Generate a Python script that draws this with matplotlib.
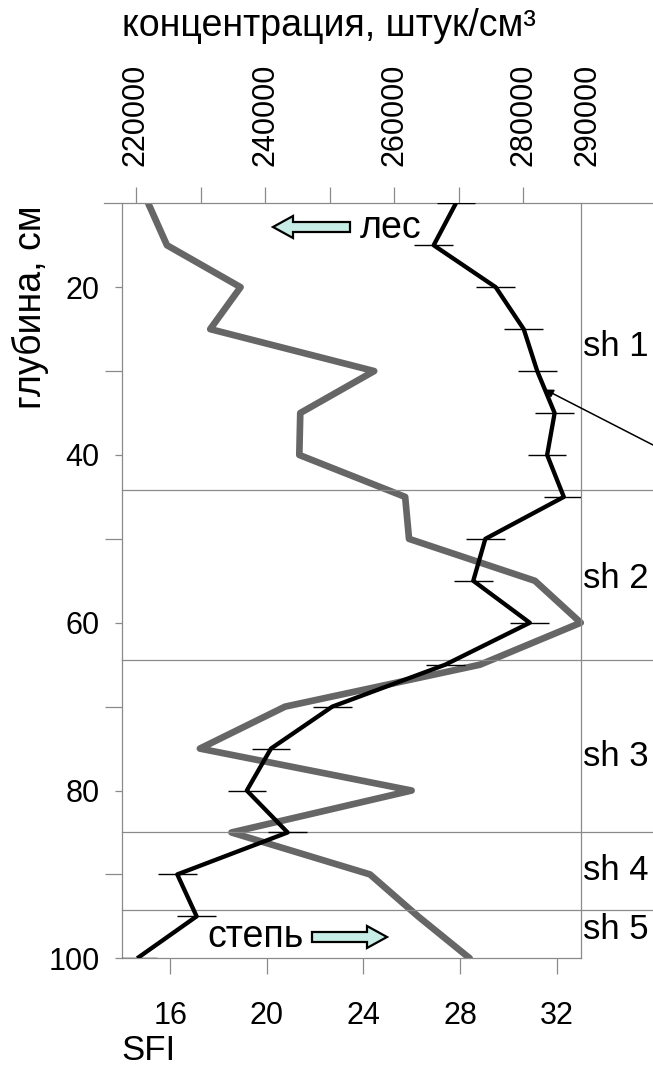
import matplotlib
matplotlib.use("Agg")
import matplotlib.pyplot as plt
import matplotlib.transforms as mtransforms
from matplotlib.patches import FancyArrow

plt.rcParams['font.family'] = ['Liberation Sans', 'DejaVu Sans']

# depth of samples, cm
depth = [10, 15, 20, 25, 30, 35, 40, 45, 50, 55, 60, 65, 70, 75, 80, 85, 90, 95, 100]
# SFI profile with its spread
sfi = [27.83, 26.91, 29.48, 30.64, 31.20, 31.92, 31.61, 32.30, 29.05, 28.55,
       30.89, 27.39, 22.71, 20.17, 19.17, 20.86, 16.29, 17.09, 14.63]
sfi_err = [0.8, 0.8, 0.8, 0.8, 0.8, 0.8, 0.8, 0.8, 0.8, 0.8,
           0.8, 0.8, 0.8, 0.8, 0.8, 0.8, 0.8, 0.8, 0.8]
# particle concentration, pcs/cm3
concentration = [221900, 224800, 236200, 231500, 256900, 245450, 245300, 261700,
                 262300, 281800, 288900, 273300, 243100, 229900, 262700, 234800,
                 256250, 263700, 271700]

# soil horizon boundaries (cm) and labels
horizon_bounds = [44.2, 64.5, 84.9, 94.2]
horizon_names = ['sh 1', 'sh 2', 'sh 3', 'sh 4', 'sh 5']
horizon_label_depth = [27.1, 54.7, 76.0, 89.5, 96.6]

sfi_ticks = [16, 20, 24, 28, 32]
depth_ticks = [20, 40, 60, 80, 100]
depth_minor = [30, 50, 70, 90]
conc_ticks = [220000, 240000, 260000, 280000, 290000]
conc_minor = [230000, 250000, 270000]

W, H = 653, 1072
fig = plt.figure(figsize=(W / 100, H / 100), dpi=100)
fig.patch.set_facecolor('white')

GRID = '#8a8a8a'
TICK_FS = 22
LABEL_FS = 25
TITLE_FS = 27

def px_rect(x0, x1, y0, y1):
    return [x0 / W, 1 - y1 / H, (x1 - x0) / W, (y1 - y0) / H]

# concentration axis (top), wider than the SFI frame
ax2 = fig.add_axes(px_rect(103.7, 652.4, 203.3, 958.3))
ax2.patch.set_visible(False)
ax2.set_xlim(215000, 300000)
ax2.set_ylim(100, 10)
for s in ['left', 'right', 'bottom']:
    ax2.spines[s].set_visible(False)
ax2.spines['top'].set_color(GRID)
ax2.spines['top'].set_linewidth(0.9)
ax2.xaxis.set_ticks_position('top')
ax2.xaxis.set_label_position('top')
ax2.set_xticks(conc_ticks)
ax2.set_xticklabels([str(v) for v in conc_ticks], rotation=90)
ax2.set_xticks(conc_minor, minor=True)
ax2.tick_params(axis='x', which='both', direction='out', length=11.5, width=0.9,
                color=GRID, labelsize=TICK_FS, pad=15)
ax2.xaxis.get_major_ticks()[-1].tick2line.set_visible(False)
ax2.set_yticks([])
ax2.plot(concentration, depth, color='#666666', lw=4.8,
         solid_joinstyle='round', solid_capstyle='round')

# SFI axis (bottom) with depth on the left
ax = fig.add_axes(px_rect(122.0, 580.7, 203.3, 958.3))
ax.set_zorder(ax2.get_zorder() + 1)
ax.patch.set_visible(False)
ax.set_xlim(14, 33)
ax.set_ylim(100, 10)
ax.spines['top'].set_visible(False)
for s in ['left', 'right', 'bottom']:
    ax.spines[s].set_color(GRID)
    ax.spines[s].set_linewidth(0.9)
ax.set_xticks(sfi_ticks)
ax.set_yticks(depth_ticks)
ax.set_yticks(depth_minor, minor=True)
ax.tick_params(axis='x', which='major', direction='out', length=11.5, width=0.9,
               color=GRID, labelsize=TICK_FS, pad=19)
ax.tick_params(axis='y', which='major', direction='out', length=5, width=0.9,
               color=GRID, labelsize=TICK_FS, pad=11)
ax.tick_params(axis='y', which='minor', direction='out', length=12.5, width=0.9,
               color=GRID)

ax.errorbar(sfi, depth, xerr=sfi_err, fmt='none', ecolor='black',
            elinewidth=1.0, capsize=0, zorder=3)
ax.plot(sfi, depth, color='black', lw=3.1, solid_joinstyle='round',
        solid_capstyle='butt', zorder=4)

# horizon boundaries run across to the right edge
blend = mtransforms.blended_transform_factory(ax.transAxes, ax.transData)
x_right = (W - 122.0) / (580.7 - 122.0)
for b in horizon_bounds:
    ax.plot([0, x_right], [b, b], transform=blend, color=GRID, lw=0.9,
            clip_on=False, zorder=1)
for name, d in zip(horizon_names, horizon_label_depth):
    ax.text(1.006, d, name, transform=blend, fontsize=LABEL_FS,
            ha='left', va='center')

# pointer to the SFI curve
ax.annotate('', xy=(31.52, 32.2), xycoords='data',
            xytext=(W, H - 445), textcoords='figure pixels',
            arrowprops=dict(arrowstyle='-|>', color='black', lw=1.1,
                            mutation_scale=12, shrinkA=0, shrinkB=0),
            annotation_clip=False)

# direction arrows
ARROW_FC = '#c8ece6'
fig.add_artist(FancyArrow(3.50, (H - 227) / 100, -0.77, 0, width=0.10,
                          head_width=0.22, head_length=0.20,
                          length_includes_head=True, fc=ARROW_FC, ec='black',
                          lw=1.6, transform=fig.dpi_scale_trans))
fig.add_artist(FancyArrow(3.12, (H - 937) / 100, 0.75, 0, width=0.10,
                          head_width=0.22, head_length=0.20,
                          length_includes_head=True, fc=ARROW_FC, ec='black',
                          lw=1.6, transform=fig.dpi_scale_trans))
fig.text(360 / W, 1 - 228 / H, 'лес', fontsize=27, ha='left', va='center')
fig.text(207 / W, 1 - 937 / H, 'степь', fontsize=27, ha='left', va='center')

# axis titles
fig.text(121.7 / W, 1 - 36 / H, 'концентрация, штук/см³', fontsize=TITLE_FS,
         ha='left', va='baseline')
fig.text(30 / W, 1 - 307 / H, 'глубина, см', fontsize=TITLE_FS,
         rotation=90, ha='center', va='center')
fig.text(121 / W, 1 - 1050 / H, 'SFI', fontsize=LABEL_FS,
         ha='left', va='center')

fig.savefig('out.png', dpi=100)
